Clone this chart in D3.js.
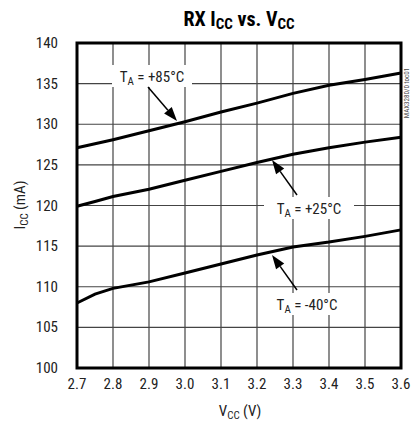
<!DOCTYPE html>
<html><head><meta charset="utf-8">
<script src="https://cdn.jsdelivr.net/npm/d3@7"></script>
<style>
body{margin:0;background:#fff;}
text{font-family:"Liberation Sans Narrow","Roboto Condensed","Liberation Sans",Arial,sans-serif;}
</style></head>
<body><svg id="c" width="412" height="431"></svg>
<script>
const vcc = [2.7, 2.75, 2.8, 2.9, 3.0, 3.1, 3.2, 3.3, 3.4, 3.5, 3.6];
const icc85 = [127.1, 127.6, 128.1, 129.2, 130.3, 131.5, 132.6, 133.8, 134.8, 135.5, 136.3];
const icc25 = [119.9, 120.5, 121.1, 122.0, 123.1, 124.2, 125.3, 126.3, 127.1, 127.8, 128.4];
const iccM40 = [108.0, 109.1, 109.8, 110.6, 111.7, 112.8, 113.9, 114.9, 115.5, 116.2, 117.0];
const xTicks = [2.7, 2.8, 2.9, 3.0, 3.1, 3.2, 3.3, 3.4, 3.5, 3.6];
const yTicks = [100, 105, 110, 115, 120, 125, 130, 135, 140];

const svg = d3.select("#c");
const x = d3.scaleLinear().domain([2.7, 3.6]).range([77, 401]);
const y = d3.scaleLinear().domain([100, 140]).range([368, 43]);

// grid
const g = svg.append("g");
g.selectAll(".vg").data(xTicks.slice(1, -1)).enter().append("line")
  .attr("x1", d => x(d)).attr("x2", d => x(d)).attr("y1", y(100)).attr("y2", y(140))
  .attr("stroke", "#444").attr("stroke-width", 1.2);
g.selectAll(".hg").data(yTicks.slice(1, -1)).enter().append("line")
  .attr("x1", x(2.7)).attr("x2", x(3.6)).attr("y1", d => y(d)).attr("y2", d => y(d))
  .attr("stroke", "#444").attr("stroke-width", 1.2);

// label backgrounds (cover gridlines)
const labels = [
  {t: "+85°C", cx: 152, cy: 76, w: 80},
  {t: "+25°C", cx: 309, cy: 208, w: 90},
  {t: "-40°C", cx: 307, cy: 304, w: 84}
];
svg.selectAll(".lb").data(labels).enter().append("rect")
  .attr("x", d => d.cx - d.w / 2).attr("y", d => d.cy - 11).attr("width", d => d.w).attr("height", 22)
  .attr("fill", "#fff");

// curves
const line = d3.line().x((d, i) => x(vcc[i])).y(d => y(d));
[icc85, icc25, iccM40].forEach(s => {
  svg.append("path").attr("d", line(s)).attr("fill", "none")
    .attr("stroke", "#000").attr("stroke-width", 3);
});

// frame
svg.append("rect").attr("x", x(2.7)).attr("y", y(140)).attr("width", x(3.6) - x(2.7)).attr("height", y(100) - y(140))
  .attr("fill", "none").attr("stroke", "#000").attr("stroke-width", 3);

// label text
labels.forEach(d => {
  const t = svg.append("text").attr("x", d.cx).attr("y", d.cy + 5.5).attr("text-anchor", "middle")
    .attr("font-size", 15).attr("fill", "#222");
  t.append("tspan").text("T");
  t.append("tspan").attr("font-size", 11).attr("dy", 3).text("A");
  t.append("tspan").attr("dy", -3).text(" = " + d.t);
});

// arrows
const arrows = [
  {x1: 148, y1: 87, x2: 177, y2: 121},
  {x1: 297, y1: 195, x2: 272, y2: 160},
  {x1: 297, y1: 290, x2: 272, y2: 255}
];
arrows.forEach(a => {
  const ang = Math.atan2(a.y2 - a.y1, a.x2 - a.x1);
  const L = 14, W = 5;
  const bx = a.x2 - L * Math.cos(ang), by = a.y2 - L * Math.sin(ang);
  svg.append("line").attr("x1", a.x1).attr("y1", a.y1).attr("x2", bx).attr("y2", by)
    .attr("stroke", "#000").attr("stroke-width", 1.5);
  const px = -Math.sin(ang) * W, py = Math.cos(ang) * W;
  svg.append("path").attr("d", `M${a.x2},${a.y2}L${bx + px},${by + py}L${bx - px},${by - py}Z`).attr("fill", "#000");
});

// tick labels
svg.selectAll(".xt").data(xTicks).enter().append("text")
  .attr("x", d => x(d)).attr("y", 389).attr("text-anchor", "middle").attr("font-size", 15).attr("fill", "#222")
  .text(d => d.toFixed(1));
svg.selectAll(".yt").data(yTicks).enter().append("text")
  .attr("x", 58).attr("y", d => y(d) + 5).attr("text-anchor", "end").attr("font-size", 15).attr("fill", "#222")
  .text(d => d);

// axis titles
const xt = svg.append("text").attr("x", 240).attr("y", 416).attr("text-anchor", "middle").attr("font-size", 15).attr("fill", "#222");
xt.append("tspan").text("V");
xt.append("tspan").attr("font-size", 11).attr("dy", 3).text("CC");
xt.append("tspan").attr("dy", -3).text(" (V)");

const yt = svg.append("text").attr("transform", "translate(25,205) rotate(-90)").attr("text-anchor", "middle").attr("font-size", 15).attr("fill", "#222");
yt.append("tspan").text("I");
yt.append("tspan").attr("font-size", 11).attr("dy", 3).text("CC");
yt.append("tspan").attr("dy", -3).text(" (mA)");

// title
const tt = svg.append("text").attr("x", 239).attr("y", 26).attr("text-anchor", "middle").attr("font-size", 20).attr("font-weight", "bold").attr("fill", "#000");
tt.append("tspan").text("RX I");
tt.append("tspan").attr("font-size", 15).attr("dy", 3).text("CC");
tt.append("tspan").attr("dy", -3).text(" vs. V");
tt.append("tspan").attr("font-size", 15).attr("dy", 3).text("CC");

// side id
svg.append("text").attr("transform", "translate(409,93) rotate(-90)").attr("text-anchor", "middle")
  .attr("font-size", 7).attr("fill", "#444").text("MAX3280/0 toc01");
</script></body></html>
